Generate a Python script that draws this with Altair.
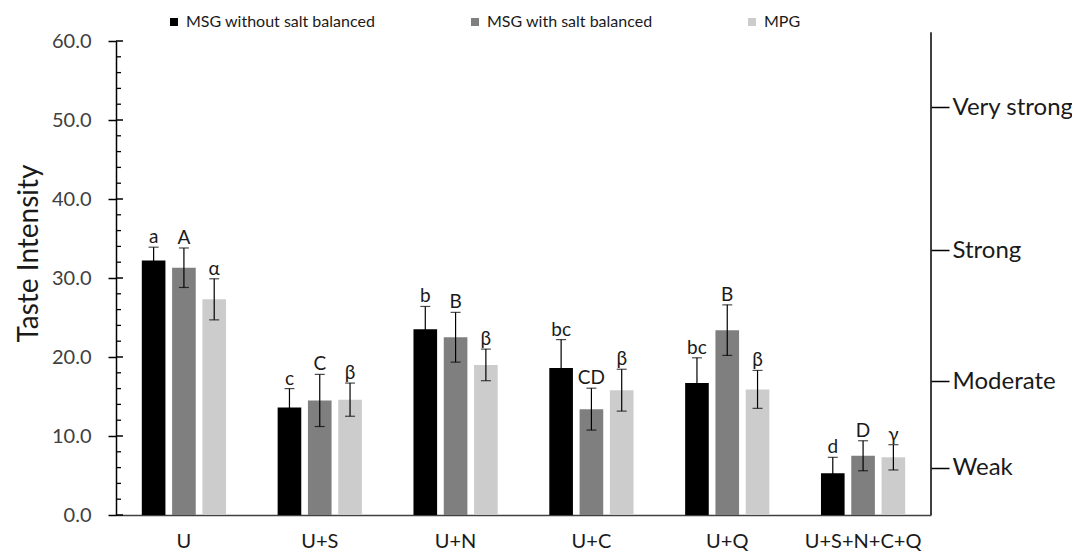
import altair as alt
import pandas as pd

# ---- data ----
groups = ["U", "U+S", "U+N", "U+C", "U+Q", "U+S+N+C+Q"]
series = ["MSG without salt balanced", "MSG with salt balanced", "MPG"]
colors = ["#000000", "#7f7f7f", "#cccccc"]

msg_wo = [32.2, 13.6, 23.5, 18.6, 16.7, 5.3]
msg_wo_err = [1.7, 2.4, 2.9, 3.6, 3.2, 2.0]
msg_w = [31.3, 14.5, 22.5, 13.4, 23.4, 7.5]
msg_w_err = [2.5, 3.3, 3.15, 2.65, 3.2, 1.9]
mpg = [27.3, 14.6, 19.0, 15.8, 15.9, 7.3]
mpg_err = [2.6, 2.1, 2.0, 2.65, 2.4, 1.6]

letters_wo = ["a", "c", "b", "bc", "bc", "d"]
letters_w = ["A", "C", "B", "CD", "B", "D"]
letters_mpg = ["α", "β", "β", "β", "β", "γ"]

y_ticks = [0, 10, 20, 30, 40, 50, 60]
minor_ticks = [2, 4, 6, 8, 12, 14, 16, 18, 22, 24, 26, 28, 32, 34, 36, 38,
               42, 44, 46, 48, 52, 54, 56, 58]

levels = ["Weak", "Moderate", "Strong", "Very strong"]
level_pos = [5.95, 16.9, 33.5, 51.6]
right_axis_top = 61.1

# ---- table ----
rows = []
for s, vals, errs, lets in [
    (series[0], msg_wo, msg_wo_err, letters_wo),
    (series[1], msg_w, msg_w_err, letters_w),
    (series[2], mpg, mpg_err, letters_mpg),
]:
    for g, v, e, l in zip(groups, vals, errs, lets):
        rows.append({"group": g, "series": s, "mean": v, "lo": v - e, "hi": v + e, "letter": l})
df = pd.DataFrame(rows)

W, H = 815, 474
FONT = "Lato"

x_enc = alt.X(
    "group:N", sort=groups,
    scale=alt.Scale(paddingInner=0.38, paddingOuter=0.19),
    axis=alt.Axis(title=None, labelAngle=0, ticks=False, labelFontSize=20,
                  labelPadding=16, labelColor="#1a1a1a", domainColor="#404040",
                  domainWidth=1.5, labelFont=FONT),
)
xo_enc = alt.XOffset("series:N", sort=series,
                     scale=alt.Scale(paddingInner=0.22, paddingOuter=0))
y_scale = alt.Scale(domain=[0, 60], nice=False, zero=True)

base = alt.Chart(df)

bars = base.mark_bar().encode(
    x=x_enc,
    xOffset=xo_enc,
    y=alt.Y("mean:Q", scale=y_scale,
            axis=alt.Axis(title="Taste Intensity", values=y_ticks, format=".1f",
                          grid=False, tickSize=8, tickWidth=1.5, tickColor="black",
                          domainColor="black", domainWidth=1.5,
                          labelFontSize=20, labelPadding=17, labelColor="#404040",
                          labelFont=FONT,
                          titleFontSize=28, titleFontWeight="normal", titleFont=FONT,
                          titleColor="#1a1a1a", titleAngle=270, titleX=-87, titleY=212,
                          titleAlign="center", titleBaseline="middle")),
    color=alt.Color("series:N", sort=series,
                    scale=alt.Scale(domain=series, range=colors),
                    legend=alt.Legend(title=None, orient="none", direction="horizontal",
                                      legendX=50, legendY=-27, symbolType="square",
                                      symbolSize=64, symbolStrokeWidth=0,
                                      labelFontSize=16, labelFont=FONT, labelLimit=0,
                                      labelColor="#1a1a1a", labelOffset=4,
                                      columnPadding=91, padding=0)),
)

err_rules = base.mark_rule(color="black", strokeWidth=1.2).encode(
    x=x_enc, xOffset=xo_enc,
    y=alt.Y("lo:Q", scale=y_scale, axis=None), y2="hi:Q",
)
caps_hi = base.mark_tick(color="black", thickness=1.2, size=10).encode(
    x=x_enc, xOffset=xo_enc, y=alt.Y("hi:Q", scale=y_scale, axis=None),
)
caps_lo = base.mark_tick(color="black", thickness=1.2, size=10).encode(
    x=x_enc, xOffset=xo_enc, y=alt.Y("lo:Q", scale=y_scale, axis=None),
)
letters = base.mark_text(baseline="alphabetic", dy=-4, fontSize=19, font=FONT,
                         color="#1a1a1a").encode(
    x=x_enc, xOffset=xo_enc, y=alt.Y("hi:Q", scale=y_scale, axis=None),
    text="letter:N",
)

# inward ticks on the left axis
maj_df = pd.DataFrame({"v": y_ticks})
min_df = pd.DataFrame({"v": minor_ticks})
maj_in = alt.Chart(maj_df).mark_rule(color="black", strokeWidth=1.5).encode(
    y=alt.Y("v:Q", scale=y_scale, axis=None), x=alt.value(0), x2=alt.value(7))
min_in = alt.Chart(min_df).mark_rule(color="black", strokeWidth=1.3).encode(
    y=alt.Y("v:Q", scale=y_scale, axis=None), x=alt.value(0), x2=alt.value(5))

# right-hand intensity scale
line_df = pd.DataFrame({"y0": [0], "y1": [right_axis_top]})
right_line = alt.Chart(line_df).mark_rule(color="black", strokeWidth=1.5).encode(
    x=alt.value(W), y=alt.Y("y0:Q", scale=y_scale, axis=None), y2="y1:Q")

label_map = "{" + ",".join(f"'{p}':'{l}'" for p, l in zip(level_pos, levels)) + "}"
right_df = pd.DataFrame({"pos": level_pos, "level": levels})
right_axis = alt.Chart(right_df).mark_point(opacity=0).encode(
    y=alt.Y("pos:Q", scale=y_scale,
            axis=alt.Axis(orient="right", values=level_pos, labelExpr=label_map + "[datum.value]",
                          title=None, grid=False, domain=False, tickSize=18,
                          tickWidth=1.5, tickColor="black", labelFontSize=24,
                          labelFont=FONT, labelPadding=3, labelColor="#1a1a1a")),
)

chart = alt.layer(
    bars, err_rules, caps_hi, caps_lo, letters, maj_in, min_in, right_line, right_axis
).resolve_axis(y="independent").properties(
    width=W, height=H,
    background="white",
    autosize=alt.AutoSizeParams(type="none"),
    padding={"left": 108, "top": 33, "right": 141, "bottom": 36},
).configure(font=FONT).configure_view(stroke="transparent", strokeWidth=0)

chart.save("out.html", embed_options={"renderer": "svg", "actions": False})
